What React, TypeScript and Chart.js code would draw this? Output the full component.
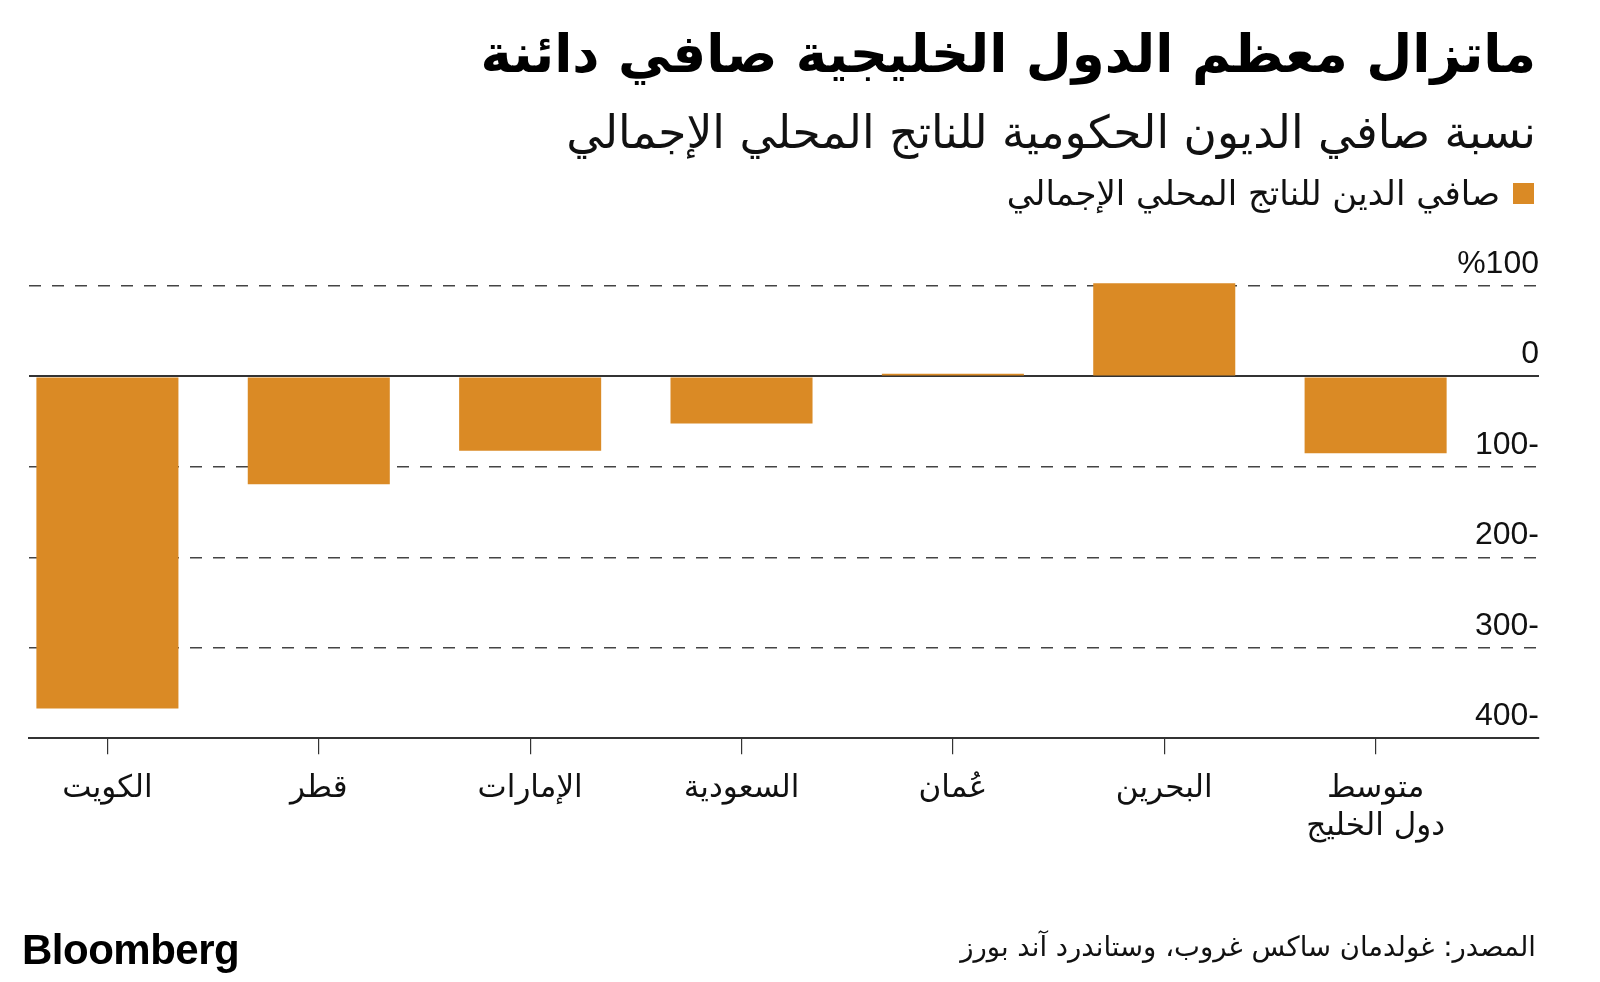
import React, { useEffect, useRef } from "react";
import { Chart, registerables } from "chart.js";

Chart.register(...registerables);

const TITLE = "ماتزال معظم الدول الخليجية صافي دائنة";
const SUBTITLE = "نسبة صافي الديون الحكومية للناتج المحلي الإجمالي";
const LEGEND_LABEL = "صافي الدين للناتج المحلي الإجمالي";
const SOURCE = "المصدر: غولدمان ساكس غروب، وستاندرد آند بورز";

const categories: (string | string[])[] = [
  "الكويت",
  "قطر",
  "الإمارات",
  "السعودية",
  "عُمان",
  "البحرين",
  ["متوسط", "دول الخليج"],
];
const netDebtToGdp = [-367, -119, -82, -52, 3, 103, -85];
const yTickValues = [100, 0, -100, -200, -300, -400];
const yTickLabels = ["%100", "0", "100-", "200-", "300-", "400-"];

const BAR_COLOR = "#DA8A25";
const ARABIC_FONT = "'DejaVu Sans', 'Noto Sans', sans-serif";
const NUM_FONT = "'Liberation Sans', Arial, sans-serif";

export default function App() {
  const canvasRef = useRef<HTMLCanvasElement | null>(null);

  useEffect(() => {
    const canvas = canvasRef.current;
    if (!canvas) return;
    const chart = new Chart(canvas, {
      type: "bar",
      data: {
        datasets: [
          {
            label: LEGEND_LABEL,
            data: netDebtToGdp.map((v, i) => ({ x: i, y: v })),
            backgroundColor: BAR_COLOR,
            borderWidth: 0,
            barPercentage: 0.672,
            categoryPercentage: 1,
            clip: false,
          } as any,
        ],
      },
      options: {
        responsive: false,
        animation: false,
        layout: { padding: { left: 29, right: 61, top: 286, bottom: 120 } },
        plugins: { legend: { display: false }, tooltip: { enabled: false } },
        scales: {
          x: {
            type: "linear",
            min: -0.371,
            max: 6.773,
            offset: false,
            afterBuildTicks: (s: any) => {
              s.ticks = categories.map((_, i) => ({ value: i }));
            },
            ticks: {
              autoSkip: false,
              maxRotation: 0,
              padding: 16,
              color: "#111",
              font: { family: ARABIC_FONT, size: 31, lineHeight: 1.22 },
              callback: (v: any) => categories[v as number] as any,
            },
            grid: {
              display: true,
              drawOnChartArea: false,
              drawTicks: true,
              tickLength: 16,
              color: "#333",
              lineWidth: 1.2,
              offset: false,
            },
            border: { display: true, color: "#333", width: 2 },
          },
          y: {
            position: "right",
            min: -400,
            max: 100,
            afterBuildTicks: (s: any) => {
              s.ticks = yTickValues.map((v) => ({ value: v }));
            },
            ticks: {
              mirror: true,
              padding: 0,
              labelOffset: -22,
              color: "#111",
              font: { family: NUM_FONT, size: 32 },
              callback: (v: any) => yTickLabels[yTickValues.indexOf(v as number)],
            },
            grid: {
              drawTicks: false,
              color: (ctx: any) =>
                ctx.tick && (ctx.tick.value === 0 || ctx.tick.value === -400) ? "#333" : "#444",
              lineWidth: (ctx: any) =>
                ctx.tick && (ctx.tick.value === 0 || ctx.tick.value === -400) ? 2 : 1.4,
            },
            border: {
              display: false,
              dash: (ctx: any) =>
                ctx.tick && (ctx.tick.value === 0 || ctx.tick.value === -400) ? [] : [12, 11],
            },
          },
        },
      } as any,
    });
    return () => chart.destroy();
  }, []);

  return (
    <div
      style={{
        position: "fixed",
        left: 0,
        top: 0,
        width: 1600,
        height: 982,
        background: "#fff",
        overflow: "hidden",
      }}
    >
      <canvas
        ref={canvasRef}
        width={1600}
        height={982}
        style={{ position: "absolute", left: 0, top: 0, width: 1600, height: 982 }}
      />
      <div
        dir="rtl"
        style={{
          position: "absolute",
          right: 64,
          top: 27,
          fontFamily: ARABIC_FONT,
          fontWeight: 700,
          fontSize: 53,
          lineHeight: 1,
          whiteSpace: "nowrap",
          color: "#000",
        }}
      >
        {TITLE}
      </div>
      <div
        dir="rtl"
        style={{
          position: "absolute",
          right: 64,
          top: 110,
          fontFamily: ARABIC_FONT,
          fontSize: 45.5,
          lineHeight: 1,
          whiteSpace: "nowrap",
          color: "#111",
        }}
      >
        {SUBTITLE}
      </div>
      <div
        dir="rtl"
        style={{
          position: "absolute",
          right: 66,
          top: 176,
          display: "flex",
          alignItems: "center",
          gap: 13,
          fontFamily: ARABIC_FONT,
          fontSize: 34,
          lineHeight: 1,
          whiteSpace: "nowrap",
          color: "#111",
        }}
      >
        <span style={{ width: 21, height: 21, background: BAR_COLOR, display: "inline-block" }} />
        <span>{LEGEND_LABEL}</span>
      </div>
      <div
        style={{
          position: "absolute",
          left: 22,
          top: 929,
          fontFamily: NUM_FONT,
          fontWeight: 700,
          fontSize: 42,
          letterSpacing: -0.5,
          lineHeight: 1,
          color: "#000",
        }}
      >
        Bloomberg
      </div>
      <div
        dir="rtl"
        style={{
          position: "absolute",
          right: 64,
          top: 933,
          fontFamily: ARABIC_FONT,
          fontSize: 27.5,
          lineHeight: 1,
          whiteSpace: "nowrap",
          color: "#111",
        }}
      >
        {SOURCE}
      </div>
    </div>
  );
}
